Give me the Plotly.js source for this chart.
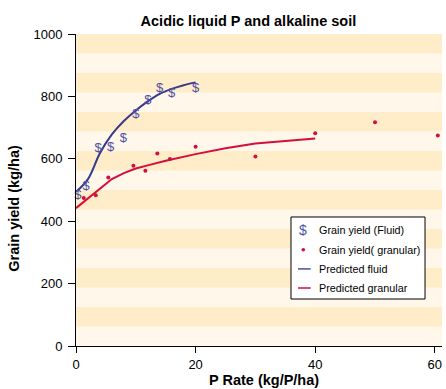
<!DOCTYPE html>
<html>
<head>
<meta charset="utf-8">
<script src="https://cdn.plot.ly/plotly-3.0.1.min.js"></script>
<style>html,body{margin:0;padding:0;background:#fff;}#chart{width:446px;height:389px;}</style>
</head>
<body>
<div id="chart"></div>
<script>
// Data
const xFluid = [0.3, 1.7, 3.7, 5.8, 7.9, 10, 12, 14, 16, 20];
const yFluid = [482, 511, 631, 637, 664, 741, 787, 826, 808, 826];
const xGranular = [1.3, 3.3, 5.4, 9.6, 11.6, 13.6, 15.7, 20, 30, 40, 50, 60.5];
const yGranular = [474, 483, 540, 578, 562, 617, 599, 639, 607, 682, 717, 675];
const xPredFluid = [0, 2, 4, 6, 8, 10, 12, 14, 16, 18, 20];
const yPredFluid = [494, 535, 618, 678, 721, 755, 784, 808, 824, 836, 845];
const xPredGranular = [0, 2, 4, 6, 8, 10, 12, 15, 20, 25, 30, 35, 40];
const yPredGranular = [442, 474, 506, 535, 554, 569, 579, 594, 615, 634, 649, 658, 665];
const xTicks = [0, 20, 40, 60];
const yTicks = [0, 200, 400, 600, 800, 1000];
const legendLabels = ['Grain yield (Fluid)', 'Grain yield( granular)', 'Predicted fluid', 'Predicted granular'];
const chartTitle = 'Acidic liquid P and alkaline soil';
const xTitle = 'P Rate (kg/P/ha)';
const yTitle = 'Grain yield (kg/ha)';

const FONT = 'Liberation Sans, Arial, sans-serif';
const cFluidMark = '#4f4fa6';
const cFluidLine = '#363a8c';
const cRed = '#d20f3c';
const bandDark = '#feedc8';
const bandLight = '#fef7ea';

const yMax = 1000, nBands = 16;

const traces = [
  {x: xPredFluid, y: yPredFluid, mode: 'lines', line: {color: cFluidLine, width: 2, shape: 'spline', smoothing: 1}, showlegend: false, hoverinfo: 'skip'},
  {x: xPredGranular, y: yPredGranular, mode: 'lines', line: {color: cRed, width: 2}, showlegend: false, hoverinfo: 'skip'},
  {x: xFluid, y: yFluid, mode: 'text', text: xFluid.map(() => '$'), textposition: 'middle center',
   textfont: {family: FONT, size: 13, color: cFluidMark}, cliponaxis: false, showlegend: false},
  {x: xGranular, y: yGranular, mode: 'markers', marker: {color: cRed, size: 4}, cliponaxis: false, showlegend: false}
];

const shapes = [];
for (let i = 1; i < nBands; i += 2) {
  shapes.push({type: 'rect', xref: 'paper', x0: 0, x1: 1, yref: 'y', y0: i * yMax / nBands, y1: (i + 1) * yMax / nBands,
    fillcolor: bandDark, line: {width: 0}, layer: 'below'});
}
// custom legend
const lgX0 = 0.5874, lgX1 = 0.9536, lgY0 = 0.1506, lgY1 = 0.4135;
const rowY = [0.3702, 0.3087, 0.2471, 0.1859];
const symX = 0.621, lineX0 = 0.6066, lineX1 = 0.6413, textX = 0.658;
shapes.push({type: 'rect', xref: 'paper', yref: 'paper', x0: lgX0, x1: lgX1, y0: lgY0, y1: lgY1,
  fillcolor: '#ffffff', line: {color: '#000', width: 1}, layer: 'above'});
shapes.push({type: 'circle', xref: 'paper', yref: 'paper', xsizemode: 'pixel', ysizemode: 'pixel',
  xanchor: symX, yanchor: rowY[1], x0: -1.8, x1: 1.8, y0: -1.8, y1: 1.8, fillcolor: cRed, line: {width: 0}, layer: 'above'});
shapes.push({type: 'line', xref: 'paper', yref: 'paper', x0: lineX0, x1: lineX1, y0: rowY[2], y1: rowY[2], line: {color: cFluidMark, width: 1.5}, layer: 'above'});
shapes.push({type: 'line', xref: 'paper', yref: 'paper', x0: lineX0, x1: lineX1, y0: rowY[3], y1: rowY[3], line: {color: cRed, width: 1.5}, layer: 'above'});

const annotations = legendLabels.map((t, i) => ({
  text: t, xref: 'paper', yref: 'paper', x: textX, y: rowY[i], xanchor: 'left', yanchor: 'middle',
  showarrow: false, font: {family: FONT, size: 10.8, color: '#000'}
}));
annotations.push({text: '$', xref: 'paper', yref: 'paper', x: symX, y: rowY[0], xanchor: 'center', yanchor: 'middle',
  showarrow: false, font: {family: FONT, size: 14, color: cFluidMark}});
annotations.push({text: '<b>' + yTitle + '</b>', xref: 'paper', yref: 'paper', x: 0, xshift: -62, y: 0.44, textangle: -90,
  xanchor: 'center', yanchor: 'middle', showarrow: false, font: {family: FONT, size: 14.5, color: '#000'}});
annotations.push({text: '<b>' + xTitle + '</b>', xref: 'paper', yref: 'paper', x: 0.515, y: 0, yshift: -34,
  xanchor: 'center', yanchor: 'middle', showarrow: false, font: {family: FONT, size: 14.5, color: '#000'}});

const layout = {
  width: 446, height: 389,
  margin: {l: 76, r: 4, t: 34, b: 43, pad: 0},
  paper_bgcolor: '#ffffff', plot_bgcolor: bandLight,
  title: {text: '<b>' + chartTitle + '</b>', xref: 'container', yref: 'container', x: 0.557, y: 0.947,
    xanchor: 'center', yanchor: 'middle', font: {family: FONT, size: 14.5, color: '#000'}},
  xaxis: {range: [0, 61.2], tickvals: xTicks, ticktext: xTicks.map(String), ticks: 'outside', ticklen: 6, tickwidth: 1,
    tickcolor: '#000', showline: true, linecolor: '#000', linewidth: 1, showgrid: false, zeroline: false,
    tickfont: {family: FONT, size: 13, color: '#000'}, fixedrange: true},
  yaxis: {range: [0, 1000], tickvals: yTicks, ticktext: yTicks.map(String), ticks: 'outside', ticklen: 7, tickwidth: 1,
    tickcolor: '#000', showline: true, linecolor: '#000', linewidth: 1, showgrid: false, zeroline: false,
    tickfont: {family: FONT, size: 13, color: '#000'}, ticklabelstandoff: 3, fixedrange: true},
  shapes: shapes,
  annotations: annotations,
  showlegend: false
};

Plotly.newPlot('chart', traces, layout, {displayModeBar: false, staticPlot: true});
</script>
</body>
</html>
